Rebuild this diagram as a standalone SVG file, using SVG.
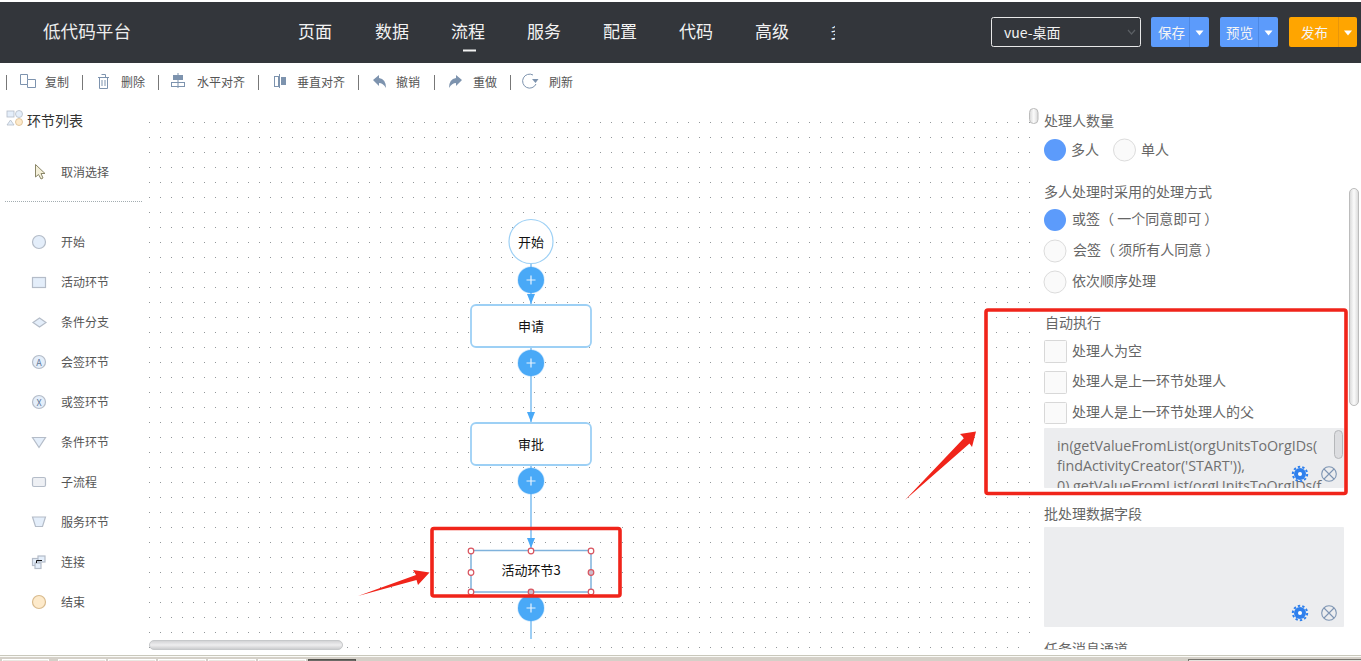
<svg xmlns="http://www.w3.org/2000/svg" width="1361" height="661" viewBox="0 0 1361 661">
<style>
text{font-family:"Noto Sans CJK SC","Liberation Sans",sans-serif}
.nav{font-size:17px;fill:#f2f2f2}
.tb{font-size:12px;fill:#555}
.ti{fill:none;stroke:#7d93ae;stroke-width:1}
.tf{fill:#7d93ae}
.sep{stroke:#777;stroke-width:1}
.sd{font-size:12px;fill:#555}
.ic{fill:#e4eefa;stroke:#b4bcc8;stroke-width:1.2}
.pl{font-size:14px;fill:#666}
.off{fill:#fafafa;stroke:#dcdcdc;stroke-width:1}
.on{fill:#5c9bfb}
.box{fill:#fafafa;stroke:#d8d8d8;stroke-width:1}
.gray{fill:#ecedef}
.code{font-family:"Open Sans","Liberation Sans",sans-serif;font-size:14.3px;fill:#707070}
.node{fill:#fff;stroke:#9dd0f5;stroke-width:1.8}
.nt{font-size:13px;fill:#111;text-anchor:middle}
.add{fill:#49a9f7;stroke:#49a9f7;stroke-opacity:.25;stroke-width:1.5}
.plus{stroke:#e8f4fe;stroke-width:1.2;fill:none}
.link{stroke:#93c9f3;stroke-width:1.8;fill:none}
.hd{fill:#fff;stroke:#d9545f;stroke-width:1.2}
.hm{fill:#cdbccb;stroke:#d9545f;stroke-width:1.2}
.red{fill:none;stroke:#f0241a;stroke-width:3.6}
.redfill{fill:#f0241a}
.bar{fill:url(#vg);stroke:#bcbcbc;stroke-width:1}
.tri{fill:#fff}
.bt{font-size:13.5px;fill:#f4f4f4}
.tab{fill:#e9e7e1;stroke:#fff;stroke-width:1}
</style>
<defs>
<pattern id="dots" x="149" y="107" width="11" height="15" patternUnits="userSpaceOnUse"><rect width="1" height="1" fill="#92979a"/></pattern>
<linearGradient id="hg" x1="0" y1="0" x2="0" y2="1"><stop offset="0" stop-color="#d0d1d3"/><stop offset=".5" stop-color="#eeeeef"/><stop offset="1" stop-color="#c8c9cb"/></linearGradient>
<linearGradient id="vg" x1="0" y1="0" x2="1" y2="0"><stop offset="0" stop-color="#d8d8d8"/><stop offset=".5" stop-color="#fbfbfb"/><stop offset="1" stop-color="#d8d8d8"/></linearGradient>
<marker id="ah" markerUnits="userSpaceOnUse" markerWidth="11" markerHeight="9" refX="10" refY="4.500" orient="auto"><path d="M0 .5L10 4.500L0 8.500Z" fill="#49a9f7"/></marker>
<clipPath id="c1"><rect x="1044" y="428" width="300" height="60"/></clipPath>
<clipPath id="c2"><rect x="1040" y="640" width="310" height="9.500"/></clipPath>
<clipPath id="c3"><rect x="825" y="15" width="10" height="35"/></clipPath>
<g id="gear"><circle r="6" fill="#2f80ed"/><circle r="7.2" fill="none" stroke="#2f80ed" stroke-width="2" stroke-dasharray="2.4 2.1"/><circle r="2" fill="#fff"/></g>
<g id="xc"><circle r="7.3" fill="none" stroke="#7e95b3" stroke-width="1.1"/><path d="M-5 -5L5 5M5 -5L-5 5" stroke="#7e95b3" stroke-width="1.1"/></g>
</defs>
<rect width="1361" height="661" fill="#fff"/>
<rect x="149" y="122" width="875" height="530" fill="url(#dots)"/>
<rect x="1024" y="122" width="10" height="513" fill="url(#dots)"/>
<rect x="0" y="2" width="1361" height="61" fill="#33363b"/>
<text x="43" y="38" font-size="17.600" fill="#ededed">低代码平台</text>
<g id="nav">
<text class="nav" x="298" y="38">页面</text><text class="nav" x="375" y="38">数据</text><text class="nav" x="451" y="38">流程</text><text class="nav" x="527" y="38">服务</text><text class="nav" x="603" y="38">配置</text><text class="nav" x="679" y="38">代码</text><text class="nav" x="755" y="38">高级</text>
<text class="nav" x="830" y="38" clip-path="url(#c3)">多</text>
<rect x="463" y="49.500" width="13" height="2" fill="#f2f2f2"/>
</g>
<g id="header-controls">
<rect x="991.500" y="17.500" width="149" height="29" rx="2" fill="#33363b" stroke="#e8e8e8"/>
<text x="1004" y="37.500" font-size="14" fill="#f2f2f2">vue-桌面</text>
<path d="M1128 30L1131.500 34L1135 30" fill="none" stroke="#5b5f64" stroke-width="1.2"/>
<rect x="1151" y="17" width="58" height="30" rx="2" fill="#5c9bfb"/><path d="M1189.500 17V47" stroke="#4c88e4"/><text class="bt" x="1158" y="37.500">保存</text><path class="tri" d="M1195.500 30.500H1203.500L1199.500 35.500Z"/>
<rect x="1220" y="17" width="58" height="30" rx="2" fill="#5c9bfb"/><path d="M1258.500 17V47" stroke="#4c88e4"/><text class="bt" x="1226" y="37.500">预览</text><path class="tri" d="M1264.500 30.500H1272.500L1268.500 35.500Z"/>
<rect x="1289" y="17" width="68" height="30" rx="2" fill="#ffa500"/><path d="M1338.500 17V47" stroke="#e8960a"/><text class="bt" x="1301" y="37.500">发布</text><path class="tri" d="M1344 30.500H1352L1348 35.500Z"/>
</g>
<g id="toolbar">
<path class="sep" d="M6.500 75V90M82.500 75V90M158.500 75V90M258.500 75V90M358.500 75V90M434.500 75V90M510.500 75V90"/>
<path class="ti" d="M20.500 74.500H27.500V79.500H35.500V87.500H27.500V84.500H20.500ZM27.500 79.500V84.500"/><text class="tb" x="45" y="87">复制</text>
<path class="ti" d="M98 77.500H109M99.500 77.500V88.500H107.500V77.500M101.500 74.500H105.500V77.500M102 80V86M105 80V86"/><text class="tb" x="121" y="87">删除</text>
<path d="M178 73V88" stroke="#7d93ae"/><rect class="tf" x="173" y="75" width="10" height="5"/><rect class="ti" x="171.500" y="82.500" width="13" height="4"/><text class="tb" x="197" y="87">水平对齐</text>
<path d="M279.500 74V88" stroke="#7d93ae"/><rect class="ti" x="274.500" y="76.500" width="4" height="10"/><rect class="tf" x="281" y="77" width="5" height="8"/><text class="tb" x="297" y="87">垂直对齐</text>
<path class="tf" d="M373 80L379 75V78Q386 79 386 88Q383 83 379 83V86Z"/><text class="tb" x="396" y="87">撤销</text>
<path class="tf" d="M462 80L456 75V78Q449 79 449 88Q452 83 456 83V86Z"/><text class="tb" x="473" y="87">重做</text>
<path class="ti" d="M533 75A7 7 0 1 0 536 84"/><path class="tf" d="M532 79H538.500L535.500 83Z"/><text class="tb" x="549" y="87">刷新</text>
</g>
<g id="sidebar">
<rect x="7" y="111" width="7" height="6" fill="#e4eefa" stroke="#b4bcc8" stroke-width=".8"/><circle cx="19" cy="114" r="3.500" fill="#e4eefa" stroke="#b4bcc8" stroke-width=".8"/><path d="M7 125L10.500 120L14 125Z" fill="#e4eefa" stroke="#b4bcc8" stroke-width=".8"/><circle cx="19" cy="122" r="3.500" fill="#fdeacb" stroke="#d9bb8e" stroke-width=".8"/>
<text x="27" y="125.500" font-size="14" fill="#333">环节列表</text>
<path d="M35.500 164.500V177L38.500 174.500L41 179L43 178L41 173.500H45Z" fill="#f4f0da" stroke="#8a8668"/>
<text class="sd" x="61" y="177">取消选择</text>
<path d="M5 201.500H143" stroke="#a3adb1" stroke-dasharray="1 1"/>
<circle class="ic" cx="39" cy="242" r="6.500"/><text class="sd" x="61" y="246.500">开始</text>
<rect class="ic" x="32.500" y="277.500" width="13" height="10"/><text class="sd" x="61" y="287">活动环节</text>
<path class="ic" d="M33 322.500L39.500 318L46 322.500L39.500 327Z"/><text class="sd" x="61" y="327">条件分支</text>
<circle class="ic" cx="39" cy="362" r="6.500"/><text x="39" y="365.500" font-size="9" fill="#5e7696" text-anchor="middle">A</text><text class="sd" x="61" y="367">会签环节</text>
<circle class="ic" cx="39" cy="402" r="6.500"/><text x="39" y="405.500" font-size="9" fill="#5e7696" text-anchor="middle">X</text><text class="sd" x="61" y="407">或签环节</text>
<path class="ic" d="M32.500 437.500H45.500L39 447.500Z"/><text class="sd" x="61" y="447">条件环节</text>
<rect class="ic" x="32.500" y="477.500" width="13" height="9" rx="1.500" style="fill:#eef0f4"/><text class="sd" x="61" y="487">子流程</text>
<path class="ic" d="M32.500 517H45.500L42.500 526.500H35.500Z"/><text class="sd" x="61" y="527">服务环节</text>
<rect class="ic" x="32.500" y="558.500" width="7" height="7"/><rect class="ic" x="38" y="556" width="7" height="6"/><rect class="ic" x="35" y="563" width="6" height="5.500"/><path d="M36.500 563V560.500H42" fill="none" stroke="#111"/><text class="sd" x="61" y="567">连接</text>
<circle class="ic" cx="39" cy="602" r="6.500" style="fill:#fdeacb;stroke:#d9bb8e"/><text class="sd" x="61" y="607">结束</text>
</g>
<g id="connectors">
<path class="link" d="M531 263V304" marker-end="url(#ah)"/>
<path class="link" d="M531 347V422" marker-end="url(#ah)"/>
<path class="link" d="M531 465V548" marker-end="url(#ah)"/>
<path class="link" d="M531 592V639"/>
</g>
<g id="node-start"><circle class="node" cx="531" cy="241.500" r="22" style="stroke-width:1.200"/><text class="nt" x="531" y="246.500">开始</text></g>
<g id="add-1"><circle class="add" cx="531" cy="280" r="13"/><path class="plus" d="M526.500 280H535.500M531 275.500V284.500"/></g>
<g id="node-apply"><rect class="node" x="471" y="305" width="120" height="42" rx="5"/><text class="nt" x="531" y="331">申请</text></g>
<g id="add-2"><circle class="add" cx="531" cy="363" r="13"/><path class="plus" d="M526.500 363H535.500M531 358.500V367.500"/></g>
<g id="node-approve"><rect class="node" x="471" y="423" width="120" height="42" rx="5"/><text class="nt" x="531" y="449">审批</text></g>
<g id="add-3"><circle class="add" cx="531" cy="481" r="13"/><path class="plus" d="M526.500 481H535.500M531 476.500V485.500"/></g>
<g id="node-activity3"><rect x="471" y="550.500" width="120" height="41.500" fill="#fff" stroke="#7fb2dc" stroke-width="1.500"/><text class="nt" x="531" y="575">活动环节3</text>
<circle class="hd" cx="471" cy="551" r="2.800"/><circle class="hd" cx="531" cy="551" r="2.800"/><circle class="hd" cx="591" cy="551" r="2.800"/><circle class="hd" cx="471" cy="572.500" r="2.800"/><circle class="hm" cx="591" cy="572.500" r="2.800"/><circle class="hd" cx="471" cy="592" r="2.800"/><circle class="hm" cx="531" cy="592" r="2.800"/><circle class="hd" cx="591" cy="592" r="2.800"/></g>
<g id="add-4"><circle class="add" cx="531" cy="608" r="13"/><path class="plus" d="M526.500 608H535.500M531 603.500V612.500"/></g>
<rect x="149.500" y="640.500" width="193" height="9" rx="4.500" fill="url(#hg)" stroke="#c6c8ca"/>
<g id="panel">
<rect x="1029.500" y="108.500" width="8.500" height="15" rx="4" class="bar"/>
<text class="pl" x="1044" y="126">处理人数量</text>
<circle class="on" cx="1055" cy="150" r="11"/><text class="pl" x="1071" y="155">多人</text>
<circle class="off" cx="1124.500" cy="150" r="11"/><text class="pl" x="1141" y="155">单人</text>
<text class="pl" x="1044" y="197">多人处理时采用的处理方式</text>
<circle class="on" cx="1055" cy="220" r="11"/><text class="pl" x="1072" y="224">或签（ 一个同意即可 ）</text>
<circle class="off" cx="1055" cy="251" r="11"/><text class="pl" x="1073" y="255">会签（ 须所有人同意 ）</text>
<circle class="off" cx="1055" cy="282" r="11"/><text class="pl" x="1072" y="286">依次顺序处理</text>
<rect x="1349.500" y="188.500" width="9" height="217" rx="4.500" class="bar"/>
<text class="pl" x="1045" y="328">自动执行</text>
<rect class="box" x="1044.500" y="340.500" width="22" height="22" rx="1"/><text class="pl" x="1072" y="356">处理人为空</text>
<rect class="box" x="1044.500" y="371.500" width="22" height="22" rx="1"/><text class="pl" x="1072" y="386">处理人是上一环节处理人</text>
<rect class="box" x="1044.500" y="402.500" width="22" height="21" rx="1"/><text class="pl" x="1072" y="417">处理人是上一环节处理人的父</text>
<rect class="gray" x="1044" y="428" width="300" height="60" rx="1"/>
<g clip-path="url(#c1)"><text class="code" x="1057" y="451">in(getValueFromList(orgUnitsToOrgIDs(</text><text class="code" x="1057" y="471">findActivityCreator('START')),</text><text class="code" x="1057" y="491">0),getValueFromList(orgUnitsToOrgIDs(f</text></g>
<rect x="1334.500" y="430.500" width="8" height="28" rx="4" fill="#dcdde0" stroke="#b5b7ba"/>
<use href="#gear" x="1300" y="474"/><use href="#xc" x="1329" y="474"/>
<text class="pl" x="1044" y="519">批处理数据字段</text>
<rect class="gray" x="1044" y="527" width="300" height="100" rx="1"/>
<use href="#gear" x="1300" y="613"/><use href="#xc" x="1329" y="613"/>
<text class="pl" x="1044" y="654" clip-path="url(#c2)">任务消息通道</text>
</g>
<g id="callouts">
<rect class="red" x="432" y="528.500" width="188" height="67.500" rx="2"/>
<path class="redfill" d="M358 596L416 575L413 570L429.500 572.500L418 585L416.500 580Z"/>
<rect class="red" x="986" y="310" width="360" height="183.500" rx="2"/>
<path class="redfill" d="M905 500L964 438L960 434L976 431.500L972 447L969.500 443.500Z"/>
</g>
<g id="statusbar">
<rect x="0" y="655" width="1361" height="6" fill="#d4d0c8"/><path d="M0 655.500H1361" stroke="#c9c8bc"/><path d="M0 656.500H1361" stroke="#fafaf6"/>
<rect class="tab" x="2.500" y="659.500" width="46" height="4"/><rect class="tab" x="58.500" y="659.500" width="47" height="4"/><rect class="tab" x="108.500" y="659.500" width="47" height="4"/><rect class="tab" x="158.500" y="659.500" width="47" height="4"/><rect class="tab" x="208.500" y="659.500" width="47" height="4"/><rect class="tab" x="258.500" y="659.500" width="47" height="4"/><rect x="308.500" y="659.500" width="47" height="4" fill="#6b6a66" stroke="#55544f"/>
<rect x="1188.500" y="659.500" width="175" height="4" fill="#e4e2dc" stroke="#77756f"/>
</g>
</svg>
